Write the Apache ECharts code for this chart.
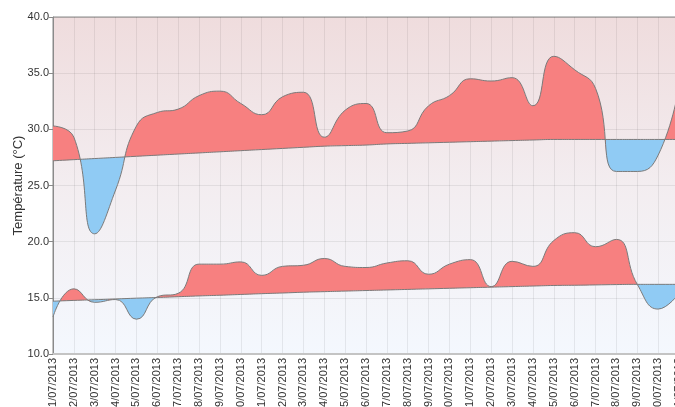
<!DOCTYPE html>
<html><head><meta charset="utf-8">
<script src="https://cdn.jsdelivr.net/npm/echarts@6/dist/echarts.min.js"></script>
<style>html,body{margin:0;padding:0;background:#fff}#c{width:675px;height:407px}</style>
</head><body><div id="c"></div><script>
const categories = ['01/07/2013','02/07/2013','03/07/2013','04/07/2013','05/07/2013','06/07/2013','07/07/2013','08/07/2013','09/07/2013','10/07/2013','11/07/2013','12/07/2013','13/07/2013','14/07/2013','15/07/2013','16/07/2013','17/07/2013','18/07/2013','19/07/2013','20/07/2013','21/07/2013','22/07/2013','23/07/2013','24/07/2013','25/07/2013','26/07/2013','27/07/2013','28/07/2013','29/07/2013','30/07/2013','31/07/2013'];
const maxTemp = [30.3, 29.3, 20.7, 24.6, 30.3, 31.5, 31.8, 33.0, 33.4, 32.3, 31.3, 32.9, 33.3, 29.3, 31.7, 32.3, 29.7, 29.85, 32.1, 33.0, 34.5, 34.3, 34.6, 32.1, 36.5, 35.3, 33.65, 26.25, 26.25, 27.7, 33.8];
const normalMax = [27.2, 27.3, 27.4, 27.5, 27.6, 27.7, 27.8, 27.9, 28.0, 28.1, 28.2, 28.3, 28.4, 28.5, 28.55, 28.6, 28.7, 28.75, 28.8, 28.85, 28.9, 28.95, 29.0, 29.05, 29.1, 29.1, 29.1, 29.1, 29.1, 29.1, 29.1];
const minTemp = [13.3, 15.8, 14.6, 14.85, 13.1, 15.1, 15.4, 18.0, 18.0, 18.2, 17.0, 17.8, 17.9, 18.5, 17.8, 17.7, 18.1, 18.3, 17.1, 18.0, 18.4, 16.0, 18.25, 17.8, 20.1, 20.8, 19.55, 20.2, 16.2, 14.0, 15.4];
const normalMin = [14.7, 14.77, 14.83, 14.9, 14.97, 15.03, 15.1, 15.17, 15.23, 15.3, 15.37, 15.43, 15.5, 15.55, 15.6, 15.65, 15.7, 15.75, 15.8, 15.85, 15.9, 15.95, 16.0, 16.05, 16.1, 16.12, 16.15, 16.18, 16.2, 16.2, 16.2];
const yMin = 10, yMax = 40, yStep = 5;

const RED = '#F78080', BLUE = '#90CBF4';
const FONT = "'Liberation Sans', Arial, sans-serif";
const SMOOTH = 0.5;

// Linear first guess of the crossings (in category index units)
function linearStops(actual, normal) {
  const n = actual.length - 1;
  const d = actual.map((v, i) => v - normal[i]);
  const s = d.map(v => v > 0 ? 1 : (v < 0 ? -1 : 0));
  let cur = s.find(v => v !== 0) || 1, start = 0;
  const stops = [];
  for (let i = 1; i < d.length; i++) {
    if (s[i] !== 0 && s[i] !== cur) {
      const t = s[i - 1] === 0 ? i - 1 : i - 1 + d[i - 1] / (d[i - 1] - d[i]);
      const c = cur > 0 ? RED : BLUE;
      stops.push({ offset: start / n, color: c }, { offset: t / n, color: c });
      start = t; cur = s[i];
    }
  }
  const c = cur > 0 ? RED : BLUE;
  stops.push({ offset: start / n, color: c }, { offset: 1, color: c });
  return stops;
}
function grad(stops) { return { type: 'linear', x: 0, y: 0, x2: 1, y2: 0, colorStops: stops }; }

// Dense samples of the smoothed curve, following the line smoothing of the library, from pixel points
function smoothSamples(p) {
  const out = [];
  let cp0 = p[0];
  out.push(p[0]);
  for (let k = 1; k < p.length; k++) {
    const prev = p[k - 1], cur = p[k];
    let cp1, nextCp0;
    if (k >= p.length - 1) { cp1 = cur; nextCp0 = cur; }
    else {
      const next = p[k + 1];
      const vx = next[0] - prev[0], vy = next[1] - prev[1];
      const l0 = Math.hypot(cur[0] - prev[0], cur[1] - prev[1]);
      const l1 = Math.hypot(next[0] - cur[0], next[1] - cur[1]);
      const r = l1 / (l0 + l1 || 1);
      nextCp0 = [cur[0] + vx * SMOOTH * r, cur[1] + vy * SMOOTH * r];
      cp1 = [cur[0] - vx * SMOOTH * (1 - r), cur[1] - vy * SMOOTH * (1 - r)];
    }
    for (let j = 1; j <= 60; j++) {
      const t = j / 60, u = 1 - t;
      out.push([
        u*u*u*prev[0] + 3*u*u*t*cp0[0] + 3*u*t*t*cp1[0] + t*t*t*cur[0],
        u*u*u*prev[1] + 3*u*u*t*cp0[1] + 3*u*t*t*cp1[1] + t*t*t*cur[1]
      ]);
    }
    cp0 = nextCp0;
  }
  return out;
}
function yAt(samples, x) {
  let lo = 0, hi = samples.length - 1;
  while (hi - lo > 1) { const m = (lo + hi) >> 1; if (samples[m][0] <= x) lo = m; else hi = m; }
  const a = samples[lo], b = samples[hi];
  const f = b[0] === a[0] ? 0 : (x - a[0]) / (b[0] - a[0]);
  return a[1] + (b[1] - a[1]) * f;
}
function curveStops(chart, actual, normal) {
  const pa = actual.map((v, i) => chart.convertToPixel({ xAxisIndex: 0, yAxisIndex: 0 }, [i, v]));
  const pn = normal.map((v, i) => chart.convertToPixel({ xAxisIndex: 0, yAxisIndex: 0 }, [i, v]));
  const sa = smoothSamples(pa), sn = smoothSamples(pn);
  const x0 = pa[0][0], x1 = pa[pa.length - 1][0];
  const sign = x => { const d = yAt(sn, x) - yAt(sa, x); return d > 0 ? 1 : (d < 0 ? -1 : 0); };
  let cur = 0, start = 0;
  const stops = [];
  const step = 0.25;
  for (let x = x0; x <= x1 + 1e-6; x += step) {
    const s = sign(x);
    if (s === 0) continue;
    if (cur === 0) { cur = s; continue; }
    if (s !== cur) {
      const off = (x - step / 2 - x0) / (x1 - x0);
      const c = cur > 0 ? RED : BLUE;
      stops.push({ offset: start, color: c }, { offset: off, color: c });
      start = off; cur = s;
    }
  }
  const c = cur > 0 ? RED : BLUE;
  stops.push({ offset: start, color: c }, { offset: 1, color: c });
  return stops;
}

const lineGrey = '#7a7a7a';
function baseSeries(name, normal, stack) {
  return {
    name, type: 'line', stack, stackStrategy: 'all', smooth: SMOOTH,
    showSymbol: false, silent: true, z: 3,
    lineStyle: { color: lineGrey, width: 1 },
    data: normal
  };
}
function diffSeries(name, actual, normal, stack) {
  return {
    name, type: 'line', stack, stackStrategy: 'all', smooth: SMOOTH,
    showSymbol: false, silent: true, z: 2,
    lineStyle: { color: lineGrey, width: 1 },
    areaStyle: { opacity: 1, color: grad(linearStops(actual, normal)) },
    data: actual.map((v, i) => +(v - normal[i]).toFixed(3))
  };
}

const chart = echarts.init(document.getElementById('c'), null, { renderer: 'canvas' });
chart.setOption({
  animation: false,
  textStyle: { fontFamily: FONT },
  grid: {
    left: 53, right: -4, top: 17, bottom: 53, show: true,
    outerBoundsMode: 'none', containLabel: false,
    borderColor: '#8a8a8a', borderWidth: 1,
    backgroundColor: {
      type: 'linear', x: 0, y: 0, x2: 0, y2: 1,
      colorStops: [{ offset: 0, color: '#EFDCDD' }, { offset: 0.5, color: '#F3EDF0' }, { offset: 1, color: '#F4F8FE' }]
    }
  },
  xAxis: {
    type: 'category', data: categories, boundaryGap: false,
    axisLine: { show: true, onZero: false, lineStyle: { color: '#c4c4c4', width: 2 } },
    axisTick: { show: false },
    splitLine: { show: true, interval: 0, lineStyle: { color: 'rgba(0,0,0,0.07)', width: 1 } },
    axisLabel: { interval: 0, rotate: 90, margin: 4, fontSize: 11, color: '#333', fontFamily: FONT }
  },
  yAxis: {
    type: 'value', min: yMin, max: yMax, interval: yStep,
    name: 'Température (°C)', nameLocation: 'middle', nameGap: 28, nameRotate: 90,
    nameMoveOverlap: false,
    nameTextStyle: { fontSize: 13, color: '#333', fontFamily: FONT },
    axisLine: { show: true, lineStyle: { color: '#8a8a8a', width: 1 } },
    axisTick: { show: true, length: 4, lineStyle: { color: '#8a8a8a' } },
    splitLine: { show: true, lineStyle: { color: 'rgba(0,0,0,0.07)', width: 1 } },
    axisLabel: { fontSize: 11, color: '#333', margin: 4, fontFamily: FONT, formatter: v => v.toFixed(1) }
  },
  series: [
    baseSeries('Normale max', normalMax, 'max'),
    diffSeries('Max', maxTemp, normalMax, 'max'),
    baseSeries('Normale min', normalMin, 'min'),
    diffSeries('Min', minTemp, normalMin, 'min')
  ]
});
// refine colour changes to where the smoothed curves actually cross
try {
  chart.setOption({
    series: [
      {},
      { areaStyle: { color: grad(curveStops(chart, maxTemp, normalMax)) } },
      {},
      { areaStyle: { color: grad(curveStops(chart, minTemp, normalMin)) } }
    ]
  });
} catch (e) { console.error(e); }
</script></body></html>
